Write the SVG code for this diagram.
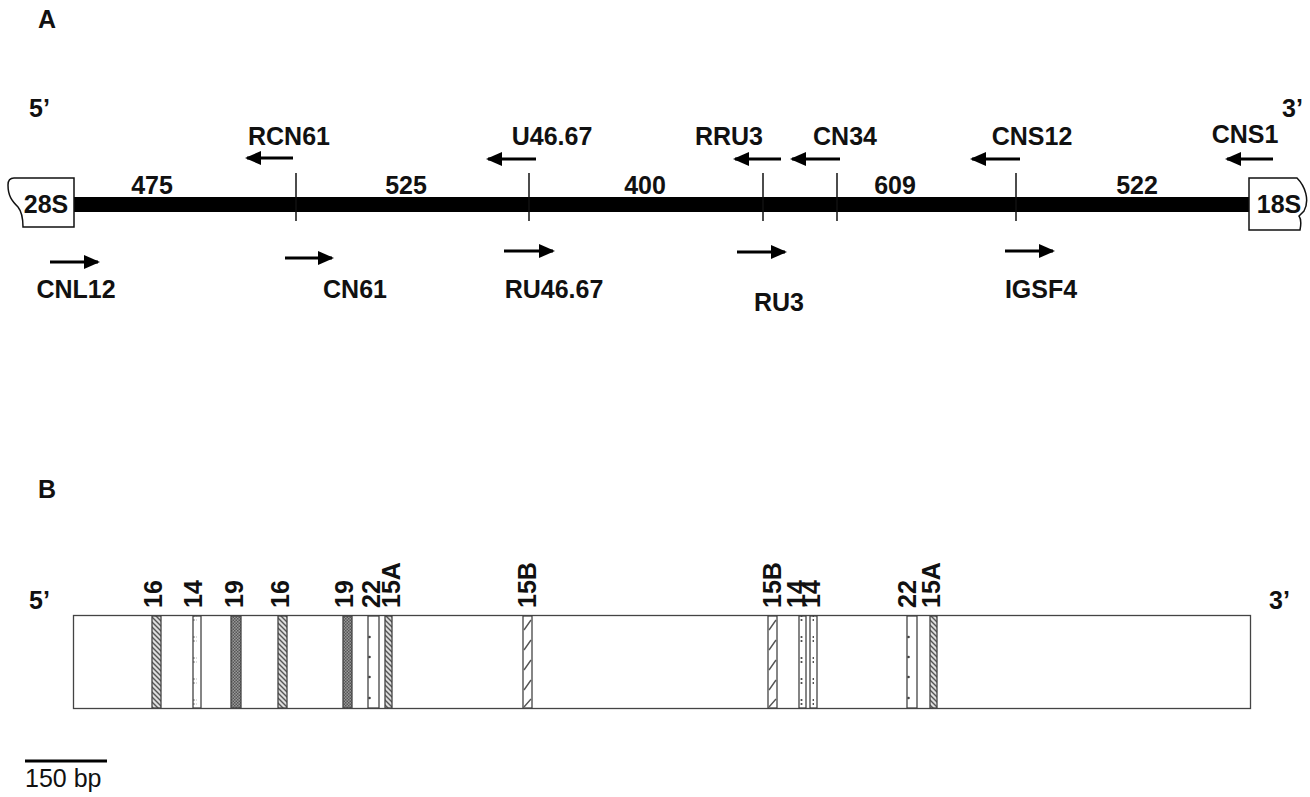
<svg xmlns="http://www.w3.org/2000/svg" width="1310" height="797" viewBox="0 0 1310 797">
<style>
.t{font-family:"Liberation Sans",Arial,sans-serif;font-weight:bold;font-size:25px;fill:#111}
.m{text-anchor:middle}
.r{font-family:"Liberation Sans",Arial,sans-serif;font-size:25px;fill:#111}
.arr{stroke:#000;stroke-width:3;fill:none}
.tick{stroke:#111;stroke-width:1.5}
.so{stroke:#444;stroke-width:1.3}
.sh{stroke:#555;stroke-width:1.4;fill:none}
</style>
<defs>
<marker id="ah" markerUnits="userSpaceOnUse" markerWidth="16" markerHeight="14" refX="14" refY="7" orient="auto">
<path d="M0,0 L16,7 L0,14 Z" fill="#000"/>
</marker>
<pattern id="hd" patternUnits="userSpaceOnUse" width="5" height="5">
<rect width="5" height="5" fill="#ddd"/>
<path d="M-1,-1 L6,6 M-1,4 L1,6 M4,-1 L6,1" stroke="#555" stroke-width="1.4"/>
</pattern>
<pattern id="dk" patternUnits="userSpaceOnUse" width="3" height="3">
<rect width="3" height="3" fill="#999"/>
<rect width="1.5" height="1.5" fill="#555"/>
<rect x="1.5" y="1.5" width="1.5" height="1.5" fill="#555"/>
</pattern>
<pattern id="dt" patternUnits="userSpaceOnUse" width="4" height="21" y="2">
<circle cx="1.5" cy="5" r="1.1" fill="#444"/>
<circle cx="1.5" cy="9" r="1.1" fill="#444"/>
</pattern>
</defs>

<!-- Panel A -->
<g id="panelA-labels">
<text class="t" x="38" y="28">A</text>
<text class="t" x="29" y="117">5’</text>
<text class="t" x="1282" y="117">3’</text>
</g>

<g id="backbone">
<rect x="72" y="197" width="1179" height="15" fill="#000"/>
</g>

<g id="box-28S">
<path d="M74,178 H14 Q8,178 8,185 C8,196 12,201 18,207 C22,212 23,219 23,227 H74 Z" fill="#fff" stroke="#111" stroke-width="1.5"/>
<text class="t m" x="46" y="213">28S</text>
</g>
<g id="box-18S">
<path d="M1249,178 H1297 C1305,186 1310,200 1304,211 L1299,216 C1302,220 1301,225 1300,230 H1249 Z" fill="#fff" stroke="#111" stroke-width="1.5"/>
<text class="t m" x="1279" y="213">18S</text>
</g>

<g id="ticks">
<line class="tick" x1="296" y1="173" x2="296" y2="221"/>
<line class="tick" x1="529" y1="173" x2="529" y2="221"/>
<line class="tick" x1="763" y1="173" x2="763" y2="221"/>
<line class="tick" x1="837" y1="173" x2="837" y2="221"/>
<line class="tick" x1="1016" y1="173" x2="1016" y2="221"/>
</g>

<g id="lengths">
<text class="t m" x="152" y="194">475</text>
<text class="t m" x="406" y="194">525</text>
<text class="t m" x="645" y="194">400</text>
<text class="t m" x="895" y="194">609</text>
<text class="t m" x="1137" y="194">522</text>
</g>

<g id="connectors">
<line class="arr" x1="293" y1="158" x2="247" y2="158" marker-end="url(#ah)"/>
<line class="arr" x1="536" y1="159" x2="488" y2="159" marker-end="url(#ah)"/>
<line class="arr" x1="781" y1="159" x2="735" y2="159" marker-end="url(#ah)"/>
<line class="arr" x1="840" y1="159" x2="792" y2="159" marker-end="url(#ah)"/>
<line class="arr" x1="1020" y1="159" x2="972" y2="159" marker-end="url(#ah)"/>
<line class="arr" x1="1273" y1="159" x2="1227" y2="159" marker-end="url(#ah)"/>
<line class="arr" x1="50" y1="262" x2="98" y2="262" marker-end="url(#ah)"/>
<line class="arr" x1="285" y1="258" x2="332" y2="258" marker-end="url(#ah)"/>
<line class="arr" x1="504" y1="251" x2="553" y2="251" marker-end="url(#ah)"/>
<line class="arr" x1="737" y1="252" x2="785" y2="252" marker-end="url(#ah)"/>
<line class="arr" x1="1005" y1="251" x2="1053" y2="251" marker-end="url(#ah)"/>
</g>

<g id="primer-RCN61"><text class="t m" x="289" y="145">RCN61</text></g>
<g id="primer-U46.67"><text class="t m" x="552" y="145">U46.67</text></g>
<g id="primer-RRU3"><text class="t m" x="729" y="145">RRU3</text></g>
<g id="primer-CN34"><text class="t m" x="845" y="145">CN34</text></g>
<g id="primer-CNS12"><text class="t m" x="1032" y="145">CNS12</text></g>
<g id="primer-CNS1"><text class="t m" x="1245" y="143">CNS1</text></g>
<g id="primer-CNL12"><text class="t m" x="76" y="298">CNL12</text></g>
<g id="primer-CN61"><text class="t m" x="355" y="298">CN61</text></g>
<g id="primer-RU46.67"><text class="t m" x="554" y="298">RU46.67</text></g>
<g id="primer-RU3"><text class="t m" x="779" y="311">RU3</text></g>
<g id="primer-IGSF4"><text class="t m" x="1041" y="298">IGSF4</text></g>

<!-- Panel B -->
<g id="panelB-labels">
<text class="t" x="38" y="498">B</text>
<text class="t" x="29" y="609">5’</text>
<text class="t" x="1269" y="609">3’</text>
</g>

<g id="repeat-box">
<rect x="73.5" y="615.5" width="1177" height="93" fill="#fff" stroke="#444" stroke-width="1.3"/>
</g>

<g id="stripes">
<rect class="so" x="152" y="616" width="9" height="92" fill="url(#hd)"/>
<rect class="so" x="278" y="616" width="9" height="92" fill="url(#hd)"/>
<rect class="so" x="385" y="616" width="7" height="92" fill="url(#hd)"/>
<rect class="so" x="930" y="616" width="7" height="92" fill="url(#hd)"/>
<rect class="so" x="231" y="616" width="10" height="92" fill="url(#dk)"/>
<rect class="so" x="343" y="616" width="9" height="92" fill="url(#dk)"/>
<rect class="so" x="523" y="616" width="9" height="92" fill="#fff"/>
<path class="sh" d="M524,630 L531,620 M524,650 L531,640 M524,670 L531,660 M524,690 L531,680 M524,707 L531,699"/>
<rect class="so" x="768" y="616" width="9" height="92" fill="#fff"/>
<path class="sh" d="M769,630 L776,620 M769,650 L776,640 M769,670 L776,660 M769,690 L776,680 M769,707 L776,699"/>
<rect class="so" x="193" y="616" width="8" height="92" fill="#fff"/>
<rect x="193.5" y="616" width="3" height="92" fill="url(#dt)"/>
<rect class="so" x="799" y="616" width="7" height="92" fill="#fff"/>
<rect x="800" y="616" width="3" height="92" fill="url(#dt)"/>
<rect class="so" x="810" y="616" width="7" height="92" fill="#fff"/>
<rect x="811" y="616" width="3" height="92" fill="url(#dt)"/>
<rect class="so" x="368" y="616" width="11" height="92" fill="#fff"/>
<rect class="so" x="907" y="616" width="10" height="92" fill="#fff"/>
<g fill="#444">
<circle cx="369.5" cy="637" r="1.3"/><circle cx="369.5" cy="657" r="1.3"/><circle cx="369.5" cy="677" r="1.3"/><circle cx="369.5" cy="698" r="1.3"/>
<circle cx="908.5" cy="637" r="1.3"/><circle cx="908.5" cy="657" r="1.3"/><circle cx="908.5" cy="677" r="1.3"/><circle cx="908.5" cy="698" r="1.3"/>
</g>
</g>

<g id="stripe-labels">
<text class="t" transform="translate(162,608) rotate(-90)">16</text>
<text class="t" transform="translate(202,608) rotate(-90)">14</text>
<text class="t" transform="translate(243,608) rotate(-90)">19</text>
<text class="t" transform="translate(289,608) rotate(-90)">16</text>
<text class="t" transform="translate(353,608) rotate(-90)">19</text>
<text class="t" transform="translate(380,608) rotate(-90)">22</text>
<text class="t" transform="translate(400,608) rotate(-90)">15A</text>
<text class="t" transform="translate(536,608) rotate(-90)">15B</text>
<text class="t" transform="translate(781,608) rotate(-90)">15B</text>
<text class="t" transform="translate(805,608) rotate(-90)">14</text>
<text class="t" transform="translate(820,608) rotate(-90)">14</text>
<text class="t" transform="translate(916,608) rotate(-90)">22</text>
<text class="t" transform="translate(940,608) rotate(-90)">15A</text>
</g>

<g id="scale-bar">
<line x1="25" y1="761" x2="107" y2="761" stroke="#000" stroke-width="3"/>
<text class="r" x="25" y="787">150 bp</text>
</g>
</svg>
